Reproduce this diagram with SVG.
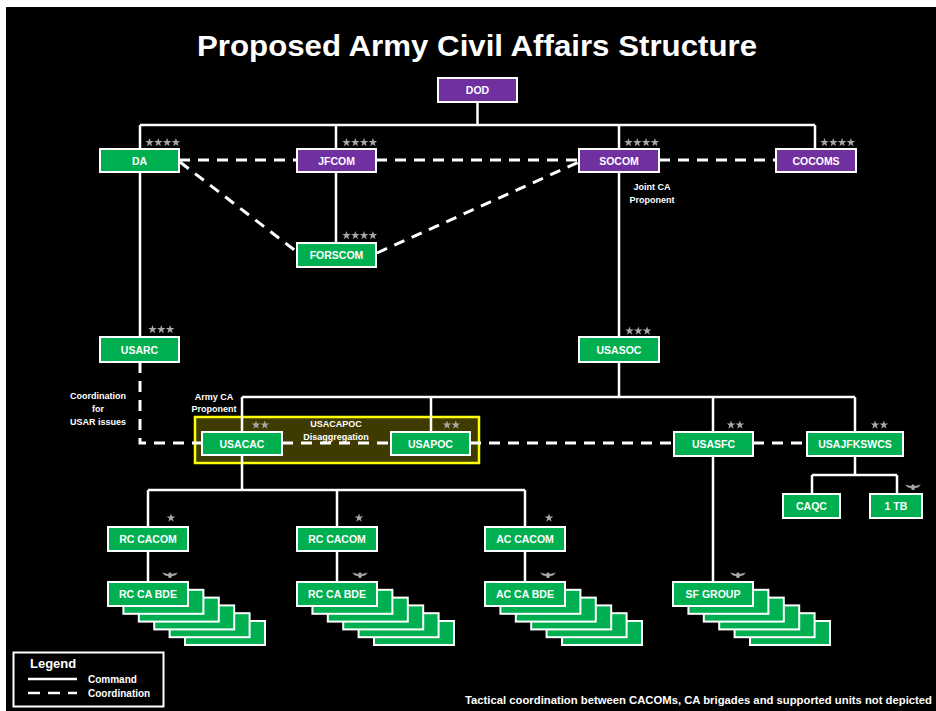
<svg xmlns="http://www.w3.org/2000/svg" xmlns:xlink="http://www.w3.org/1999/xlink" width="936" height="711" viewBox="0 0 936 711">
<style>
.g{fill:#00b050;stroke:#fff;stroke-width:2}
.p{fill:#7030a0;stroke:#fff;stroke-width:2}
.t{font-family:"Liberation Sans",Arial,sans-serif;font-weight:bold;font-size:10.5px;fill:#fff;text-anchor:middle}
.a{font-family:"Liberation Sans",Arial,sans-serif;font-weight:bold;font-size:9px;fill:#fff;text-anchor:middle}
.sol{fill:none;stroke:#fff;stroke-width:2.5}
.dsh{fill:none;stroke:#fff;stroke-width:3;stroke-dasharray:11 8}
.ins{fill:#a6a6a6}
</style>
<defs>
<polygon id="star" class="ins" points="0,-4.5 1.06,-1.46 4.28,-1.39 1.71,0.56 2.65,3.64 0,1.8 -2.65,3.64 -1.71,0.56 -4.28,-1.39 -1.06,-1.46"/>
<g id="s2"><use href="#star"/><use href="#star" x="8.8"/></g>
<g id="s3"><use href="#s2"/><use href="#star" x="17.6"/></g>
<g id="s4"><use href="#s3"/><use href="#star" x="26.4"/></g>
<path id="eagle" class="ins" d="M-8,-2.5 L-2,-1 L0,-3 L2,-1 L8,-2.5 L5,0.5 L2,1 L1.2,3 L-1.2,3 L-2,1 L-5,0.5 Z"/>
<g id="stack">
<rect class="g" x="77" y="39" width="80" height="24"/>
<rect class="g" x="61.6" y="31.2" width="80" height="24"/>
<rect class="g" x="46.2" y="23.4" width="80" height="24"/>
<rect class="g" x="30.8" y="15.6" width="80" height="24"/>
<rect class="g" x="15.4" y="7.8" width="80" height="24"/>
<rect class="g" x="0" y="0" width="80" height="24"/>
</g>
</defs>
<rect x="0" y="0" width="936" height="711" fill="#fff"/>
<rect x="6" y="7" width="930" height="704" fill="#000"/>
<text x="477" y="56" font-family="'Liberation Sans',Arial,sans-serif" font-weight="bold" font-size="30" fill="#fff" text-anchor="middle" textLength="560" lengthAdjust="spacingAndGlyphs">Proposed Army Civil Affairs Structure</text>

<g id="usacapoc-group">
<rect x="195" y="417" width="284" height="46" fill="#3f3a00" stroke="#ffff00" stroke-width="2.5"/>
<text class="a" x="336" y="427">USACAPOC</text>
<text class="a" x="336" y="440">Disaggregation</text>
</g>

<g id="connectors">
<path class="sol" d="M477.5,102V125M140,125H815M140,125V149M336,125V149M619,125V149M815,125V149"/>
<path class="sol" d="M140,172V337M336,172V243M619,172V337M619,362V397M242,397H855M242,397V432M431,397V432M713,397V432M855,397V432"/>
<path class="sol" d="M242,455V490M148,490H525M148,490V527M337,490V527M525,490V527M148,551V582M337,551V582M525,551V582M713,456V582"/>
<path class="sol" d="M855,456V475M812,475H897M812,475V494M897,475V494"/>
<path class="dsh" d="M179,160H297M376,160H579M659,160H776"/>
<path class="dsh" d="M180,162L297,252M377,253L579,162"/>
<path class="dsh" d="M140,362V443H202M282,443H391M470,443H674M753,443H807"/>
</g>

<g id="dod"><rect class="p" x="438" y="78" width="79" height="24"/><text class="t" x="477.5" y="94">DOD</text></g>
<g id="da"><rect class="g" x="100" y="149" width="79" height="23"/><text class="t" x="139.5" y="164.5">DA</text><use href="#s4" x="149.5" y="142.5"/></g>
<g id="jfcom"><rect class="p" x="297" y="149" width="79" height="23"/><text class="t" x="336.5" y="164.5">JFCOM</text><use href="#s4" x="346.5" y="142.5"/></g>
<g id="socom"><rect class="p" x="579" y="149" width="80" height="23"/><text class="t" x="619" y="164.5">SOCOM</text><use href="#s4" x="628.5" y="142.5"/>
<text class="a" x="652" y="190">Joint CA</text><text class="a" x="652" y="203">Proponent</text></g>
<g id="cocoms"><rect class="p" x="776" y="149" width="80" height="23"/><text class="t" x="816" y="164.5">COCOMS</text><use href="#s4" x="824.5" y="142.5"/></g>
<g id="forscom"><rect class="g" x="297" y="243" width="79" height="24"/><text class="t" x="336.5" y="259">FORSCOM</text><use href="#s4" x="346.5" y="235.5"/></g>
<g id="usarc"><rect class="g" x="100" y="337" width="79" height="25"/><text class="t" x="139.5" y="353.5">USARC</text><use href="#s3" x="152.5" y="329.5"/>
<text class="a" x="98" y="399" font-size="9.5">Coordination</text><text class="a" x="98" y="412" font-size="9.5">for</text><text class="a" x="98" y="425" font-size="9.5">USAR issues</text></g>
<g id="usasoc"><rect class="g" x="579" y="337" width="80" height="25"/><text class="t" x="619" y="353.5">USASOC</text><use href="#s3" x="629.5" y="331"/></g>
<g id="usacac"><rect class="g" x="202" y="432" width="80" height="23"/><text class="t" x="242" y="447.5">USACAC</text><use href="#s2" x="256" y="425"/>
<text class="a" x="214" y="400" font-size="9.5">Army CA</text><text class="a" x="214" y="412" font-size="9.5">Proponent</text></g>
<g id="usapoc"><rect class="g" x="391" y="432" width="79" height="23"/><text class="t" x="430.5" y="447.5">USAPOC</text><use href="#s2" x="447" y="425"/></g>
<g id="usasfc"><rect class="g" x="674" y="432" width="79" height="24"/><text class="t" x="713.5" y="448">USASFC</text><use href="#s2" x="731" y="425"/></g>
<g id="usajfkswcs"><rect class="g" x="807" y="432" width="96" height="24"/><text class="t" x="855" y="448">USAJFKSWCS</text><use href="#s2" x="875" y="425"/></g>
<g id="caqc"><rect class="g" x="783" y="494" width="57" height="24"/><text class="t" x="811.5" y="510">CAQC</text></g>
<g id="tb1"><rect class="g" x="870" y="494" width="52" height="24"/><text class="t" x="896" y="510">1 TB</text><use href="#eagle" x="913" y="487"/></g>
<g id="rc-cacom-1"><rect class="g" x="108" y="527" width="80" height="24"/><text class="t" x="148" y="543">RC CACOM</text><use href="#star" x="171" y="518"/></g>
<g id="rc-cacom-2"><rect class="g" x="297" y="527" width="80" height="24"/><text class="t" x="337" y="543">RC CACOM</text><use href="#star" x="359" y="518"/></g>
<g id="ac-cacom"><rect class="g" x="485" y="527" width="80" height="24"/><text class="t" x="525" y="543">AC CACOM</text><use href="#star" x="549" y="518"/></g>
<g id="rc-ca-bde-1"><use href="#stack" x="108" y="582"/><text class="t" x="148" y="598">RC CA BDE</text><use href="#eagle" x="170" y="575"/></g>
<g id="rc-ca-bde-2"><use href="#stack" x="297" y="582"/><text class="t" x="337" y="598">RC CA BDE</text><use href="#eagle" x="360" y="575"/></g>
<g id="ac-ca-bde"><use href="#stack" x="485" y="582"/><text class="t" x="525" y="598">AC CA BDE</text><use href="#eagle" x="548" y="575"/></g>
<g id="sf-group"><use href="#stack" x="673" y="582"/><text class="t" x="713" y="598">SF GROUP</text><use href="#eagle" x="738" y="575"/></g>

<g id="legend">
<rect x="13.5" y="652.5" width="150" height="54" fill="none" stroke="#fff" stroke-width="2"/>
<text x="30" y="668" font-family="'Liberation Sans',Arial,sans-serif" font-weight="bold" font-size="13" fill="#fff">Legend</text>
<path d="M28,679H77" stroke="#fff" stroke-width="2.5"/>
<path d="M28,693H77" stroke="#fff" stroke-width="2.5" stroke-dasharray="12 8"/>
<text x="88" y="683" font-family="'Liberation Sans',Arial,sans-serif" font-weight="bold" font-size="10" fill="#fff">Command</text>
<text x="88" y="697" font-family="'Liberation Sans',Arial,sans-serif" font-weight="bold" font-size="10" fill="#fff">Coordination</text>
</g>
<text x="465" y="704" font-family="'Liberation Sans',Arial,sans-serif" font-weight="bold" font-size="10.5" fill="#fff" textLength="467" lengthAdjust="spacingAndGlyphs">Tactical coordination between CACOMs, CA brigades and supported units not depicted</text>
</svg>
